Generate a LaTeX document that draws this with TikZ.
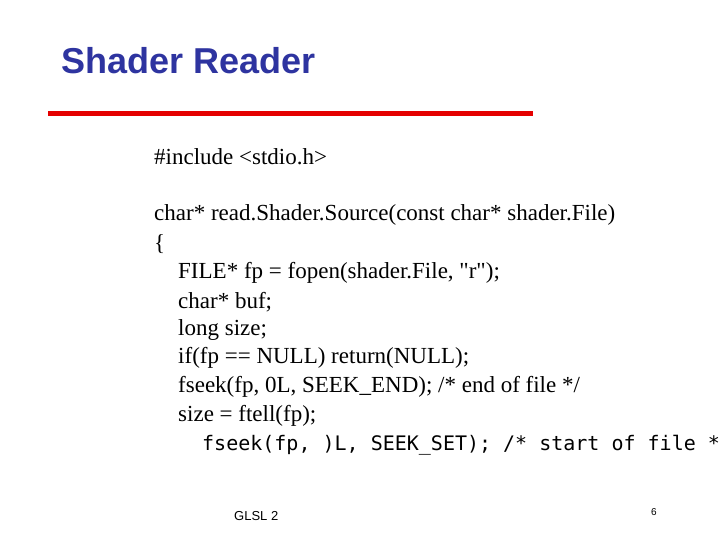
\documentclass[tikz,border=0pt]{standalone}
\usepackage{fontspec}
\setmainfont{Liberation Serif}[Ligatures=TeXOff]
\newfontfamily\arialf{Liberation Sans}
\newfontfamily\monof{DejaVu Sans Mono}
\begin{document}
\begin{tikzpicture}[x=1pt,y=-1pt,
  code/.style={anchor=west,inner sep=0pt,font=\fontsize{23}{26}\selectfont},
  foot/.style={anchor=west,inner sep=0pt,font=\arialf\fontsize{13}{15}\selectfont}]
\definecolor{titleblue}{RGB}{46,52,160}
\useasboundingbox[fill=white] (0,0) rectangle (720,540);
\node[anchor=west,inner sep=0pt,text=titleblue,font=\arialf\bfseries\fontsize{36}{42}\selectfont] (title) at (61,61) {Shader Reader};
\coordinate (ra) at (48,114); \coordinate (rb) at (533,114);
\draw[red!90!black,line width=5pt] (ra) -- (rb);
\node[code] (l1) at (154,157) {\#include <stdio.h>};
\node[code] (l2) at (154,215) {char* read.Shader.Source(const char* shader.File)};
\node[code] (l3) at (154,244) {\{};
\node[code] (l4) at (178,273) {FILE* fp = fopen(shader.File, "r");};
\node[code] (l5) at (178,302) {char* buf;};
\node[code] (l6) at (178,330) {long size;};
\node[code] (l7) at (178,358) {if(fp == NULL) return(NULL);};
\node[code] (l8) at (178,387) {fseek(fp, 0L, SEEK\_END); /* end of file */};
\node[code] (l9) at (178,416) {size = ftell(fp);};
\node[anchor=west,inner sep=0pt,font=\monof\fontsize{20}{24}\selectfont] (l10) at (202,445) {fseek(fp, )L, SEEK\_SET); /* start of file */};
\node[foot] (f1) at (234,516) {GLSL 2};
\node[anchor=west,inner sep=0pt,font=\arialf\fontsize{10}{12}\selectfont] (f2) at (651,512) {6};
\end{tikzpicture}
\end{document}
